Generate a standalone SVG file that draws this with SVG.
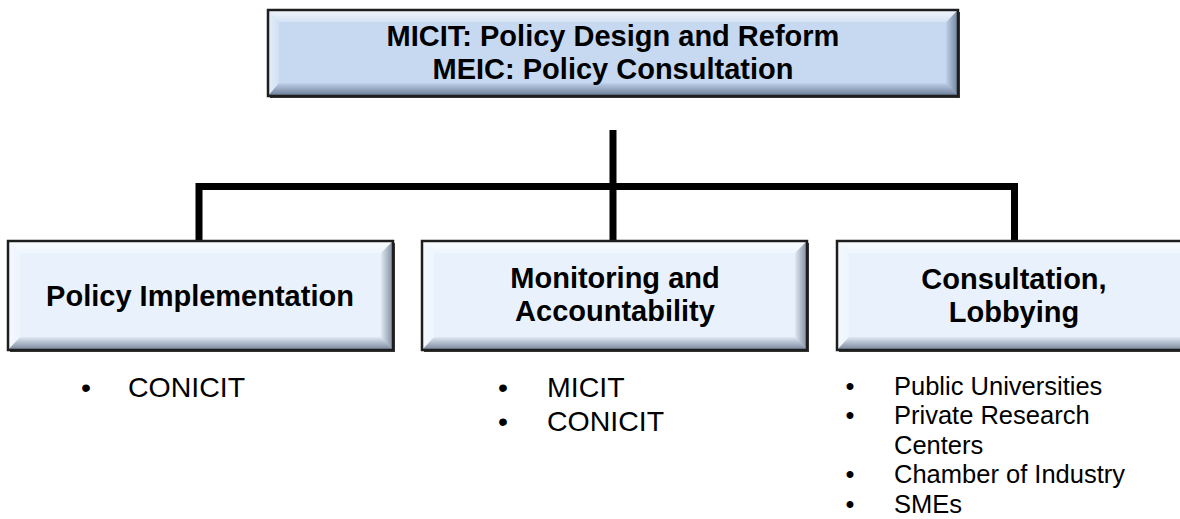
<svg xmlns="http://www.w3.org/2000/svg" width="1180" height="519" viewBox="0 0 1180 519">
  <defs>
    <linearGradient id="gTop" x1="0" y1="0" x2="0" y2="1">
      <stop offset="0" stop-color="#ffffff" stop-opacity="0.75"/>
      <stop offset="1" stop-color="#ffffff" stop-opacity="0.25"/>
    </linearGradient>
    <linearGradient id="gLeft" x1="0" y1="0" x2="1" y2="0">
      <stop offset="0" stop-color="#ffffff" stop-opacity="0.55"/>
      <stop offset="1" stop-color="#ffffff" stop-opacity="0.2"/>
    </linearGradient>
    <linearGradient id="gRight" x1="0" y1="0" x2="1" y2="0">
      <stop offset="0" stop-color="#2a3a55" stop-opacity="0.05"/>
      <stop offset="1" stop-color="#2a3a55" stop-opacity="0.55"/>
    </linearGradient>
    <linearGradient id="gBottom" x1="0" y1="0" x2="0" y2="1">
      <stop offset="0" stop-color="#2a3a55" stop-opacity="0.05"/>
      <stop offset="1" stop-color="#2a3a55" stop-opacity="0.6"/>
    </linearGradient>
    <style>
      .frame { fill: none; stroke: #1e1e1e; stroke-width: 2.5; }
      .shadow { fill: #3a3a3a; }
      .faceTop { fill: #c6d9f1; }
      .faceSub { fill: #e9f2fc; }
      .bt { fill: url(#gTop); }
      .bl { fill: url(#gLeft); }
      .br { fill: url(#gRight); }
      .bb { fill: url(#gBottom); }
      .head { font-family: "Liberation Sans", Arial, sans-serif; font-weight: bold; font-size: 29px; fill: #000; text-anchor: middle; }
      .item { font-family: "Liberation Sans", Arial, sans-serif; font-size: 28.5px; fill: #000; }
      .item2 { font-family: "Liberation Sans", Arial, sans-serif; font-size: 25.5px; fill: #000; }
      .dot { text-anchor: middle; }
      .conn { fill: none; stroke: #000; stroke-width: 7; stroke-linejoin: miter; stroke-linecap: butt; }
    </style>
  </defs>

  <g id="connectors">
    <path class="conn" d="M613,130 V186"/>
    <path class="conn" d="M199,241 V186.5 H1014.5 V241"/>
    <path class="conn" d="M613,186 V241"/>
  </g>

  <g id="node-top">
    <rect class="shadow" x="270" y="12" width="690" height="86"/>
    <rect class="faceTop" x="268" y="10" width="690" height="86"/>
    <polygon class="bt" points="268,10 958,10 947,22 279,22"/>
    <polygon class="bl" points="268,10 279,22 279,83 268,96"/>
    <polygon class="br" points="958,10 958,96 946,83 946,22"/>
    <polygon class="bb" points="268,96 958,96 946,83 279,83"/>
    <rect class="frame" x="268" y="10" width="690" height="86"/>
    <text class="head" x="613" y="46">MICIT: Policy Design and Reform</text>
    <text class="head" x="613" y="78.5">MEIC: Policy Consultation</text>
  </g>

  <g id="node-implementation">
    <rect class="shadow" x="10" y="243" width="385" height="109"/>
    <rect class="faceSub" x="8" y="241" width="385" height="109"/>
    <polygon class="bt" points="8,241 393,241 381,253 20,253"/>
    <polygon class="bl" points="8,241 20,253 20,337 8,350"/>
    <polygon class="br" points="393,241 393,350 381,337 381,253"/>
    <polygon class="bb" points="8,350 393,350 381,337 20,337"/>
    <rect class="frame" x="8" y="241" width="385" height="109"/>
    <text class="head" x="200" y="306">Policy Implementation</text>
  </g>

  <g id="node-monitoring">
    <rect class="shadow" x="424" y="243" width="385" height="109"/>
    <rect class="faceSub" x="422" y="241" width="385" height="109"/>
    <polygon class="bt" points="422,241 807,241 795,253 434,253"/>
    <polygon class="bl" points="422,241 434,253 434,337 422,350"/>
    <polygon class="br" points="807,241 807,350 795,337 795,253"/>
    <polygon class="bb" points="422,350 807,350 795,337 434,337"/>
    <rect class="frame" x="422" y="241" width="385" height="109"/>
    <text class="head" x="615" y="288">Monitoring and</text>
    <text class="head" x="615" y="321">Accountability</text>
  </g>

  <g id="node-consultation">
    <rect class="shadow" x="839" y="243" width="385" height="109"/>
    <rect class="faceSub" x="837" y="241" width="385" height="109"/>
    <polygon class="bt" points="837,241 1222,241 1210,253 849,253"/>
    <polygon class="bl" points="837,241 849,253 849,337 837,350"/>
    <polygon class="br" points="1222,241 1222,350 1210,337 1210,253"/>
    <polygon class="bb" points="837,350 1222,350 1210,337 849,337"/>
    <rect class="frame" x="837" y="241" width="385" height="109"/>
    <text class="head" x="1014" y="289">Consultation,</text>
    <text class="head" x="1014" y="322">Lobbying</text>
  </g>

  <g id="list-implementation">
    <text class="item dot" x="86" y="397">•</text>
    <text class="item" x="128" y="397">CONICIT</text>
  </g>

  <g id="list-monitoring">
    <text class="item dot" x="503" y="397">•</text>
    <text class="item" x="547" y="397">MICIT</text>
    <text class="item dot" x="503" y="431">•</text>
    <text class="item" x="547" y="431">CONICIT</text>
  </g>

  <g id="list-consultation">
    <text class="item2 dot" x="850" y="394.5">•</text>
    <text class="item2" x="894" y="394.5">Public Universities</text>
    <text class="item2 dot" x="850" y="424">•</text>
    <text class="item2" x="894" y="424">Private Research</text>
    <text class="item2" x="894" y="453.5">Centers</text>
    <text class="item2 dot" x="850" y="483">•</text>
    <text class="item2" x="894" y="483">Chamber of Industry</text>
    <text class="item2 dot" x="850" y="512.5">•</text>
    <text class="item2" x="894" y="512.5">SMEs</text>
  </g>
</svg>
